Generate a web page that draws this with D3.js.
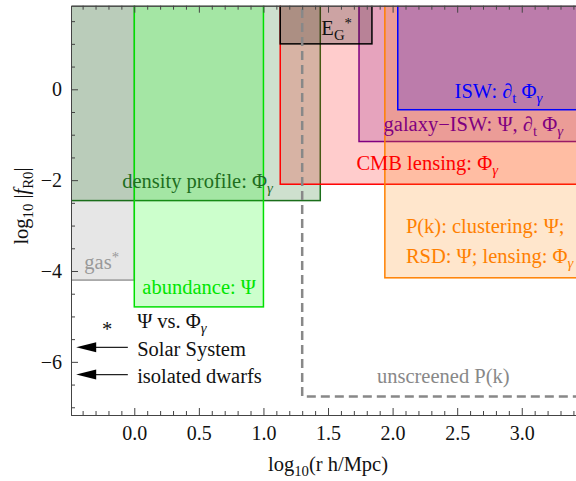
<!DOCTYPE html>
<html>
<head>
<meta charset="utf-8">
<script src="https://cdn.jsdelivr.net/npm/d3@7"></script>
<style>
  body { margin: 0; background: #fff; }
  text { font-family: "Liberation Serif", "DejaVu Serif", serif; }
</style>
</head>
<body>
<div class="canvas"></div>
<script>
// regions in (log10 r, log10 |fR0|), open sides run past the frame
const regionNames = ['gas', 'density', 'abundance', 'cmb', 'galaxyIsw', 'pk', 'isw', 'eg'];
const regionX0 = [-1.0, -1.0, 0.0, 1.13, 1.74, 1.94, 2.04, 1.13];
const regionX1 = [0.0, 1.44, 1.0, 4.0, 4.0, 4.0, 4.0, 1.84];
const regionY0 = [-4.2, -2.45, -4.79, -2.09, -1.15, -4.15, -0.45, 1.0];
const regionY1 = [3, 3, 3, 3, 3, 3, 3, 3];

// unscreened P(k) boundary
const unscreenedX = [1.30, 1.30, 4.0];
const unscreenedY = [3, -6.76, -6.76];

// arrows for local tests
const arrowNames = ['Solar System', 'isolated dwarfs'];
const arrowY = [-5.68, -6.28];
const arrowFrom = -0.05;
const arrowTo = -0.45;

const xTicks = [0.0, 0.5, 1.0, 1.5, 2.0, 2.5, 3.0];
const yTicks = [0, -2, -4, -6];

const width = 576, height = 481;
const svg = d3.select('.canvas').append('svg')
    .attr('width', width).attr('height', height);

const x = d3.scaleLinear().domain([-0.49, 3.42]).range([71, 576]);
const y = d3.scaleLinear().domain([-7.17, 1.84]).range([415, 5.7]);

const styles = {
  gas:       {fill: '#808080', stroke: '#999999'},
  density:   {fill: '#0a640a', stroke: '#1a6e1a'},
  abundance: {fill: '#00ff00', stroke: '#00e000'},
  cmb:       {fill: '#ff0000', stroke: '#ff0000'},
  galaxyIsw: {fill: '#800080', stroke: '#800080'},
  pk:        {fill: '#ff8000', stroke: '#ff8000'},
  isw:       {fill: '#0000ff', stroke: '#0000ff'},
  eg:        {fill: '#000000', stroke: '#000000'}
};

svg.append('defs').append('clipPath').attr('id', 'plot')
  .append('rect').attr('x', 71).attr('y', 5.7).attr('width', 505).attr('height', 415 - 5.7);

const plot = svg.append('g').attr('clip-path', 'url(#plot)');

const regions = regionNames.map((name, i) => ({
  name, x0: regionX0[i], x1: regionX1[i], y0: regionY0[i], y1: regionY1[i]
}));

plot.selectAll('rect.region').data(regions).enter().append('rect')
  .attr('class', 'region')
  .attr('x', d => x(d.x0))
  .attr('y', d => y(d.y1))
  .attr('width', d => x(d.x1) - x(d.x0))
  .attr('height', d => y(d.y0) - y(d.y1))
  .attr('fill', d => styles[d.name].fill)
  .attr('fill-opacity', 0.2)
  .attr('stroke', d => styles[d.name].stroke)
  .attr('stroke-width', 1.5);

const line = d3.line().x(d => x(d[0])).y(d => y(d[1]));
plot.append('path')
  .attr('d', line(unscreenedX.map((v, i) => [v, unscreenedY[i]])))
  .attr('fill', 'none')
  .attr('stroke', '#888')
  .attr('stroke-width', 2.5)
  .attr('stroke-dasharray', '9,5');

// arrows
arrowY.forEach(v => {
  plot.append('line')
    .attr('x1', x(arrowFrom)).attr('x2', x(arrowTo) + 15)
    .attr('y1', y(v)).attr('y2', y(v))
    .attr('stroke', '#222').attr('stroke-width', 1.2);
  const tx = x(arrowTo), ty = y(v);
  plot.append('path')
    .attr('d', `M${tx},${ty} L${tx + 20},${ty - 5} L${tx + 20},${ty + 5} Z`)
    .attr('fill', '#000');
});

// axes: ticks point inward
const frame = svg.append('g');
const xMinor = d3.range(-4, 35).map(v => v / 10).filter(v => !xTicks.some(t => Math.abs(t - v) < 1e-9));
const yMinor = d3.range(-14, 4).map(v => v / 2).filter(v => !yTicks.includes(v));

frame.append('g').attr('transform', 'translate(0,415)')
  .call(d3.axisBottom(x).tickValues(xTicks).tickFormat(d3.format('.1f'))
    .tickSizeInner(-7).tickSizeOuter(0).tickPadding(11));
frame.append('g').attr('transform', 'translate(0,415)')
  .call(d3.axisBottom(x).tickValues(xMinor).tickFormat('').tickSizeInner(-4).tickSizeOuter(0));
frame.append('g').attr('transform', 'translate(0,5.7)')
  .call(d3.axisTop(x).tickValues(xTicks).tickFormat('').tickSizeInner(-7).tickSizeOuter(0));
frame.append('g').attr('transform', 'translate(0,5.7)')
  .call(d3.axisTop(x).tickValues(xMinor).tickFormat('').tickSizeInner(-4).tickSizeOuter(0));
frame.append('g').attr('transform', 'translate(71,0)')
  .call(d3.axisLeft(y).tickValues(yTicks).tickSizeInner(-7).tickSizeOuter(0).tickPadding(9));
frame.append('g').attr('transform', 'translate(71,0)')
  .call(d3.axisLeft(y).tickValues(yMinor).tickFormat('').tickSizeInner(-4).tickSizeOuter(0));

frame.selectAll('.domain').attr('stroke', '#444');
frame.selectAll('.tick line').attr('stroke', '#444');
frame.selectAll('.tick text').attr('font-family', '"Liberation Serif", serif')
  .attr('font-size', 20).attr('fill', '#111');

// rich text helper: segments [text, kind]
function rich(g, px, py, segs, opts) {
  const t = g.append('text').attr('x', px).attr('y', py)
    .attr('font-size', opts.size || 20.5)
    .attr('fill', opts.color || '#000')
    .attr('text-anchor', opts.anchor || 'start');
  if (opts.rotate) t.attr('transform', `rotate(${opts.rotate},${px},${py})`);
  let shift = 0;
  segs.forEach(([s, kind]) => {
    const sp = t.append('tspan').text(s);
    let want = 0;
    if (kind && kind.includes('sub')) { want = 5; sp.attr('font-size', '0.72em'); }
    if (kind && kind.includes('sup')) { want = -7; sp.attr('font-size', '0.72em'); }
    if (kind && kind.includes('i')) sp.attr('font-style', 'italic');
    if (want !== shift) { sp.attr('dy', want - shift); shift = want; }
  });
  return t;
}

const ann = svg.append('g');
const Pg = [['Φ'], ['γ', 'subi']];
rich(ann, x(1.073), y(-2.173), [['density profile: '], ...Pg], {color: '#1e6e1e', anchor: 'end'});
rich(ann, x(0.942), y(-4.506), [['abundance: Ψ']], {color: '#00e600', anchor: 'end'});
rich(ann, x(-0.118), y(-3.955), [['gas'], ['*', 'sup']], {color: '#999999', anchor: 'end'});
rich(ann, x(1.685), y(1.195), [['E'], ['G', 'sub'], ['*', 'sup']], {color: '#111', anchor: 'end'});
rich(ann, x(3.16), y(-0.19), [['ISW: '], ['∂', 'i'], ['t', 'sub'], [' Φ'], ['γ', 'subi']], {color: '#0000ff', anchor: 'end'});
rich(ann, x(3.319), y(-0.918), [['galaxy−ISW: Ψ, '], ['∂', 'i'], ['t', 'sub'], [' Φ'], ['γ', 'subi']], {color: '#800080', anchor: 'end'});
rich(ann, x(2.816), y(-1.776), [['CMB lensing: '], ...Pg], {color: '#ff0000', anchor: 'end'});
rich(ann, x(2.103), y(-3.163), [['P(k): clustering: Ψ;']], {color: '#ff8000'});
rich(ann, x(2.103), y(-3.817), [['RSD: Ψ; lensing: '], ...Pg], {color: '#ff8000'});
rich(ann, x(1.879), y(-6.464), [['unscreened P(k)']], {color: '#888888'});
rich(ann, x(-0.21), y(-5.42), [['*']], {color: '#111', anchor: 'middle'});
rich(ann, x(0.022), y(-5.254), [['Ψ vs. '], ...Pg], {color: '#111'});
arrowNames.forEach((name, i) => {
  rich(ann, x(0.022), y(arrowY[i]) + 8.5, [[name]], {color: '#111'});
});

// axis titles
rich(svg, 328, 471, [['log'], ['10', 'sub'], ['(r h/Mpc)']], {anchor: 'middle', color: '#111'});
rich(svg, 28, 206, [['log'], ['10', 'sub'], [' |'], ['f', 'i'], ['R0', 'sub'], ['|']], {anchor: 'middle', color: '#111', rotate: -90});
</script>
</body>
</html>
